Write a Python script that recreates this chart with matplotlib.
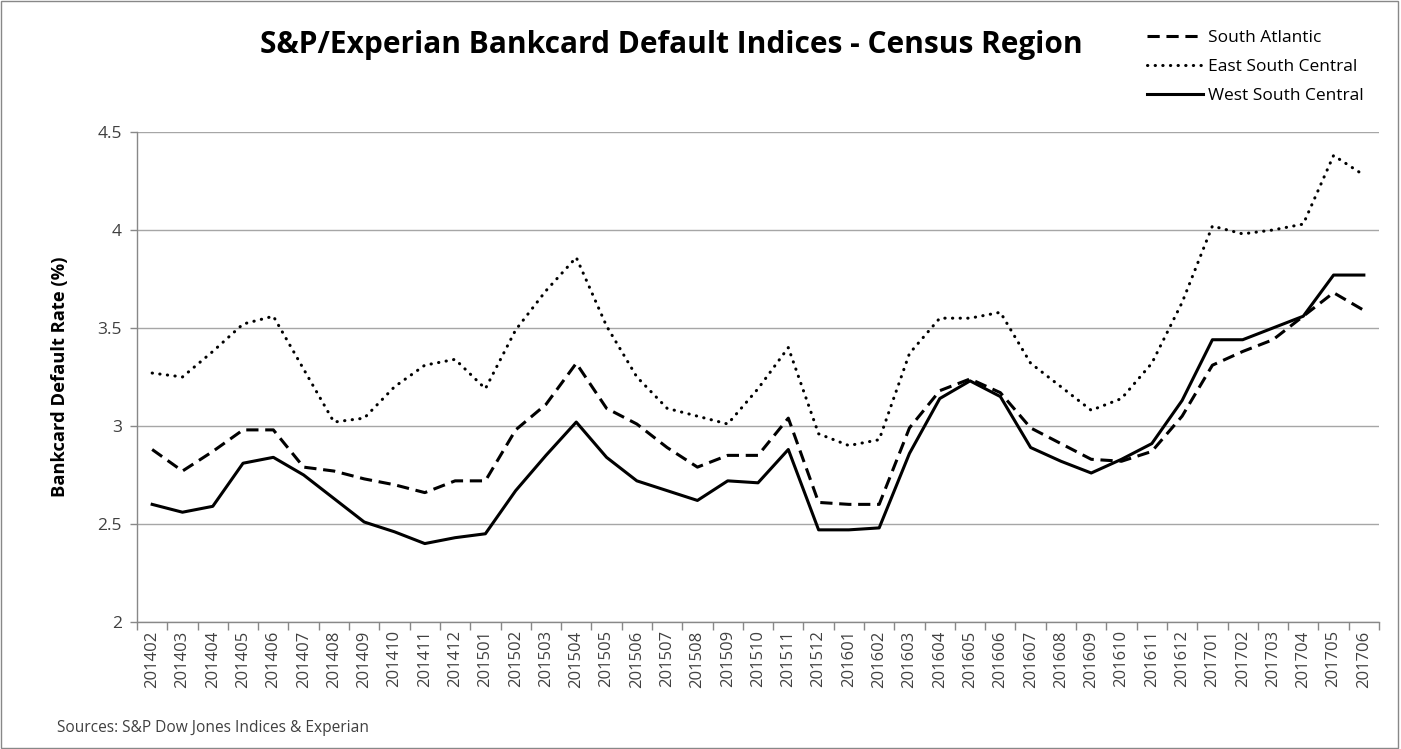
import matplotlib
matplotlib.use('Agg')
import matplotlib.pyplot as plt
from matplotlib.patches import Rectangle
import numpy as np

plt.rcParams['font.family'] = ['Open Sans', 'DejaVu Sans']

months = ['201402', '201403', '201404', '201405', '201406', '201407', '201408', '201409',
          '201410', '201411', '201412', '201501', '201502', '201503', '201504', '201505',
          '201506', '201507', '201508', '201509', '201510', '201511', '201512', '201601',
          '201602', '201603', '201604', '201605', '201606', '201607', '201608', '201609',
          '201610', '201611', '201612', '201701', '201702', '201703', '201704', '201705',
          '201706']

south_atlantic = [2.88, 2.77, 2.87, 2.98, 2.98, 2.79, 2.77, 2.73, 2.70, 2.66, 2.72, 2.72,
                  2.98, 3.11, 3.32, 3.09, 3.01, 2.89, 2.79, 2.85, 2.85, 3.04, 2.61, 2.60,
                  2.60, 2.99, 3.18, 3.24, 3.17, 2.99, 2.91, 2.83, 2.82, 2.87, 3.05, 3.31,
                  3.38, 3.44, 3.56, 3.68, 3.59]

east_south_central = [3.27, 3.25, 3.38, 3.52, 3.56, 3.29, 3.02, 3.04, 3.20, 3.31, 3.34, 3.19,
                      3.49, 3.69, 3.86, 3.51, 3.25, 3.09, 3.05, 3.01, 3.19, 3.40, 2.96, 2.90,
                      2.93, 3.37, 3.55, 3.55, 3.58, 3.32, 3.20, 3.08, 3.14, 3.32, 3.63, 4.02,
                      3.98, 4.00, 4.03, 4.38, 4.28]

west_south_central = [2.60, 2.56, 2.59, 2.81, 2.84, 2.75, 2.63, 2.51, 2.46, 2.40, 2.43, 2.45,
                      2.67, 2.85, 3.02, 2.84, 2.72, 2.67, 2.62, 2.72, 2.71, 2.88, 2.47, 2.47,
                      2.48, 2.86, 3.14, 3.23, 3.15, 2.89, 2.82, 2.76, 2.83, 2.91, 3.13, 3.44,
                      3.44, 3.50, 3.56, 3.77, 3.77]

yticks = [2, 2.5, 3, 3.5, 4, 4.5]
ytick_labels = ['2', '2.5', '3', '3.5', '4', '4.5']

fig = plt.figure(figsize=(14.01, 7.49), dpi=100)
ax = fig.add_axes([0.0978, 0.1696, 0.8865, 0.6542])

x = np.arange(len(months))
l1, = ax.plot(x, south_atlantic, color='black', lw=2.2, linestyle=(0, (4, 2.2)),
              label='South Atlantic')
l2, = ax.plot(x, east_south_central, color='black', lw=2.2, linestyle=(0, (0.1, 2.4)),
              dash_capstyle='round', label='East South Central')
l3, = ax.plot(x, west_south_central, color='black', lw=2.2, label='West South Central')

ax.set_xlim(-0.5, len(months) - 0.5)
ax.set_ylim(2, 4.5)
ax.set_yticks(yticks)
ax.set_yticklabels(ytick_labels, fontsize=12.5, color='#404040')
ax.set_xticks(x)
ax.set_xticklabels(months, rotation=90, fontsize=12, color='#404040')
ax.set_xticks(np.arange(-0.5, len(months)), minor=True)
ax.tick_params(axis='x', which='major', length=0, pad=6)
ax.tick_params(axis='x', which='minor', length=6, color='#888888', width=1)
ax.tick_params(axis='y', length=5, color='#888888', width=1, pad=6)

ax.grid(axis='y', color='#a6a6a6', lw=1)
ax.set_axisbelow(True)
for s in ['top', 'right']:
    ax.spines[s].set_visible(False)
for s in ['left', 'bottom']:
    ax.spines[s].set_color('#888888')
    ax.spines[s].set_linewidth(1)

ax.set_ylabel('Bankcard Default Rate (%)', fontsize=13.2, fontweight='bold', labelpad=20)

fig.text(0.479, 0.94, 'S&P/Experian Bankcard Default Indices - Census Region',
         ha='center', va='center', fontsize=21.5, fontweight='bold')

fig.legend(handles=[l1, l2, l3], loc='upper left', bbox_to_anchor=(0.814, 0.969),
           frameon=False, fontsize=12.5, handlelength=3.2, handletextpad=0.3,
           labelspacing=0.72, borderaxespad=0)

fig.text(0.041, 0.028, 'Sources: S&P Dow Jones Indices & Experian', fontsize=11.2,
         ha='left', va='center', color='#404040')

fig.patches.append(Rectangle((0.001, 0.002), 0.997, 0.996, transform=fig.transFigure,
                             fill=False, edgecolor='#888888', lw=1))

fig.savefig('out.png', dpi=100)
